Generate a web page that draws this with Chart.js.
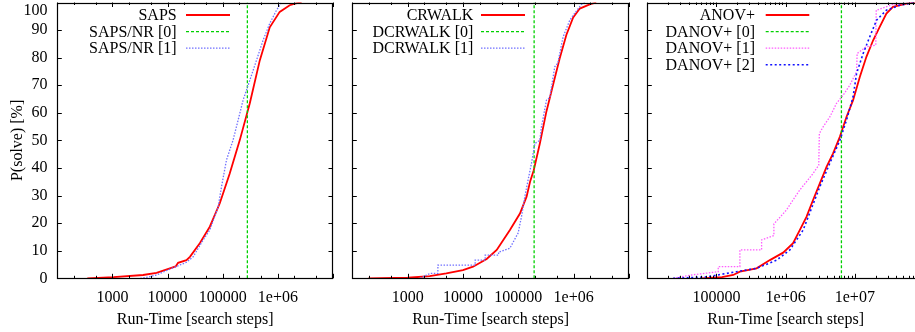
<!DOCTYPE html>
<html><head><meta charset="utf-8">
<script src="https://cdn.jsdelivr.net/npm/chart.js@4/dist/chart.umd.min.js"></script>
<style>
html,body{margin:0;padding:0;background:#fff;width:915px;height:332px;overflow:hidden;position:relative}
canvas{position:absolute;top:0}
</style></head><body>
<canvas id="c1" width="335" height="332" style="left:0px"></canvas>
<canvas id="c2" width="291" height="332" style="left:340px"></canvas>
<canvas id="c3" width="291" height="332" style="left:635px"></canvas>
<script>
// ---------- data ----------
const yTickValues = [0,10,20,30,40,50,60,70,80,90,100];
const yTickLabels = ['0','10','20','30','40','50','60','70','80','90','100'];

const xTickValues12 = [1000, 10000, 100000, 1000000];
const xTickLabels12 = ['1000', '10000', '100000', '1e+06'];
const xTickValues3 = [100000, 1000000, 10000000];
const xTickLabels3 = ['100000', '1e+06', '1e+07'];

// panel 1
const sapsX = [350, 1050, 3600, 6300, 11000, 14000, 15500, 22000, 25400, 38400, 58300, 88500, 134000, 204000, 310000, 470000, 713000, 1080000, 1640000, 2200000, 2700000];
const sapsY = [0, 0.4, 1.2, 2.0, 3.6, 4.3, 5.6, 6.6, 7.8, 12.7, 18.7, 27.2, 38, 50.1, 63.5, 79, 91, 96.6, 99, 99.8, 100];
const sapsNR0X = [280000, 280000];
const sapsNR0Y = [0, 100];
const sapsNR1X = [3200, 4500, 6300, 9800, 16600, 22000, 29100, 44200, 58300, 82600, 95100, 117000, 154000, 190000, 234000, 310000, 409000, 539000, 713000, 944000, 1160000];
const sapsNR1Y = [0, 0.5, 1.2, 2.9, 4.8, 5.8, 7.8, 13.9, 17.5, 25.9, 33.2, 42.9, 50.1, 57.3, 64.6, 71.8, 79, 86.3, 92.4, 97.2, 100];

// panel 2
const crwalkX = [195, 1000, 2500, 5000, 10000, 15200, 26800, 40700, 70500, 107000, 141000, 163000, 190000, 245000, 322000, 425000, 560000, 740000, 980000, 1290000, 1950000, 2560000];
const crwalkY = [0, 0.2, 0.8, 1.8, 3.0, 4.2, 7.0, 10.3, 17.5, 23.5, 29.6, 35, 39.2, 48.9, 60.5, 70.2, 79.8, 88.3, 94.6, 97.8, 99.3, 100];
const dcrwalk0X = [193000, 193000];
const dcrwalk0Y = [0, 100];
const dcrwalk1X = [1670, 2560, 3520, 3520, 16600, 16600, 25200, 25200, 44000, 44000, 70300, 99100, 114000, 131000, 150000, 173000, 199000, 245000, 262000, 323000, 370000, 456000, 517000, 644000, 851000, 1120000, 1380000, 1590000];
const dcrwalk1Y = [0, 1.8, 1.8, 4.8, 4.8, 6.6, 6.6, 8.4, 8.4, 9.5, 10.9, 16.4, 22.3, 29.6, 35.6, 41.7, 48.9, 50, 54.9, 64.6, 65.5, 76.7, 78, 87.5, 93.6, 96.9, 99.3, 100];

// panel 3
const anovX = [61100, 120000, 174600, 218000, 380000, 592000, 920000, 1280000, 1600000, 2000000, 2490000, 3120000, 3900000, 4850000, 6070000, 7570000, 9440000, 11800000, 14700000, 18400000, 22900000, 28600000, 35600000, 55700000, 73500000, 120000000];
const anovY = [0, 0.4, 1.2, 2.4, 3.6, 6.6, 9.3, 12.7, 17.5, 22.3, 28.4, 34.4, 40.4, 45.3, 51.3, 58.5, 64.6, 73, 80.3, 86.3, 91.2, 96, 98.4, 99.6, 100, 100];
const danov0X = [6400000, 6400000];
const danov0Y = [0, 100];
const danov1X = [23700, 43700, 106000, 106000, 218000, 218000, 449000, 449000, 676000, 676000, 1030000, 1280000, 1600000, 2000000, 2490000, 3010000, 3070000, 3480000, 4350000, 5430000, 6770000, 8450000, 10600000, 10800000, 14700000, 20100000, 20400000, 35600000, 73500000, 120000000];
const danov1Y = [0, 1.2, 2.4, 4.2, 4.2, 10.3, 10.3, 13.9, 15.5, 19.7, 24.8, 28.4, 32, 35, 38, 41, 52.5, 54.9, 58.5, 63.4, 66.4, 70, 74.9, 81.5, 84, 84.5, 97.2, 99.3, 100, 100];
const danov2X = [23700, 72100, 195000, 380000, 740000, 1150000, 1790000, 3120000, 4350000, 6070000, 7570000, 9440000, 10600000, 13200000, 16400000, 20600000, 28600000, 44600000, 73500000, 120000000];
const danov2Y = [0, 0.5, 2.4, 3.6, 6.6, 10.3, 17.5, 33.2, 41.7, 50, 57.3, 65.8, 74.3, 81.5, 87.5, 93.6, 97.2, 99, 100, 100];

// ---------- helpers ----------
const pts = (xs, ys) => xs.map((x, i) => ({x, y: ys[i]}));
const FONT = '"Liberation Serif", "Times New Roman", serif';
Chart.defaults.font.family = FONT;
Chart.defaults.font.size = 16;
Chart.defaults.color = '#000';

const RED = {borderColor:'#ff0000', borderWidth:1.8, borderDash:[]};
const GREEN = {borderColor:'#00d000', borderWidth:1.3, borderDash:[3,2]};
const LBLUE = {borderColor:'#7070ff', borderWidth:1.3, borderDash:[1.5,1.5]};
const BLUE = {borderColor:'#1010ff', borderWidth:1.6, borderDash:[2,2.5]};
const PINK = {borderColor:'#ff5cff', borderWidth:1.3, borderDash:[1.5,1.5]};

const gp = {
  id: 'gp',
  afterDraw(chart, args, o) {
    const {ctx, chartArea: a} = chart;
    const xs = chart.scales.x, ys = chart.scales.y;
    ctx.save();
    ctx.strokeStyle = '#000';
    ctx.lineWidth = 1;
    ctx.setLineDash([]);
    ctx.beginPath();
    const lo = Math.floor(Math.log10(xs.min)), hi = Math.ceil(Math.log10(xs.max));
    for (let e = lo; e <= hi; e++) {
      for (const m of [1, ...o.minor]) {
        const v = m * Math.pow(10, e);
        if (v < xs.min * 0.999 || v > xs.max * 1.001) continue;
        const px = Math.round(xs.getPixelForValue(v)) + 0.5;
        const L = m === 1 ? 4.5 : 2.5;
        ctx.moveTo(px, a.bottom); ctx.lineTo(px, a.bottom - L);
        ctx.moveTo(px, a.top); ctx.lineTo(px, a.top + L);
      }
    }
    for (const v of yTickValues) {
      const py = Math.round(ys.getPixelForValue(v)) + 0.5;
      ctx.moveTo(a.left, py); ctx.lineTo(a.left + 4.5, py);
      ctx.moveTo(a.right, py); ctx.lineTo(a.right - 4.5, py);
    }
    ctx.stroke();
    ctx.lineWidth = 1.2;
    ctx.strokeRect(Math.round(a.left) + 0.5, Math.round(a.top) + 0.5, Math.round(a.right - a.left) - 1, Math.round(a.bottom - a.top) - 1);

    ctx.font = '16px ' + FONT;
    ctx.fillStyle = '#000';
    if (o.yLabels) {
      ctx.textAlign = 'right';
      ctx.textBaseline = 'middle';
      yTickValues.forEach((v, i) => {
        const py = Math.max(ys.getPixelForValue(v), 11);
        ctx.fillText(yTickLabels[i], o.yLabelRight, py);
      });
    }
    const L = o.legend;
    chart.data.datasets.forEach((ds, i) => {
      const y = L.y0 + i * L.dy;
      ctx.textAlign = 'right';
      ctx.textBaseline = 'middle';
      ctx.fillStyle = '#000';
      ctx.fillText(ds.label, a.left + L.text, y + 1);
      ctx.strokeStyle = ds.borderColor;
      ctx.lineWidth = ds.borderWidth;
      ctx.setLineDash(ds.borderDash || []);
      ctx.beginPath();
      ctx.moveTo(a.left + L.s0, y); ctx.lineTo(a.left + L.s1, y);
      ctx.stroke();
    });
    ctx.restore();
  }
};

function makeChart(id, series, cfg) {
  const n = series.length;
  const datasets = series.map((s, i) => Object.assign({
    label: s.label,
    data: pts(s.x, s.y),
    pointRadius: 0,
    tension: 0,
    fill: false,
    order: n - i
  }, s.style));
  return new Chart(document.getElementById(id), {
    type: 'line',
    data: {datasets},
    options: {
      responsive: false,
      animation: false,
      devicePixelRatio: 1,
      layout: {autoPadding: false, padding: {top: 2.5, right: 2, left: cfg.padLeft, bottom: 0}},
      plugins: {
        legend: {display: false},
        tooltip: {enabled: false},
        gp: cfg.gp
      },
      scales: {
        x: {
          type: 'logarithmic',
          min: cfg.xmin, max: cfg.xmax,
          grid: {display: false, drawTicks: false},
          border: {display: false},
          ticks: {
            autoSkip: false, maxRotation: 0, minRotation: 0, padding: 0,
            font: {size: 16, lineHeight: 2.425},
            callback: (v) => {
              const k = cfg.tv.findIndex(t => Math.abs(t - v) / t < 1e-6);
              return k >= 0 ? cfg.tl[k] : '';
            }
          },
          title: {display: true, text: 'Run-Time [search steps]', padding: {top: 0, bottom: 2.4}},
          afterFit: (s) => { s.height = 332 - 278.3; }
        },
        y: {
          type: 'linear',
          min: 0, max: 100,
          display: cfg.yTitle,
          grid: {display: false, drawTicks: false},
          border: {display: false},
          ticks: {display: false, stepSize: 10, padding: 0},
          title: {display: cfg.yTitle, text: 'P(solve) [%]', padding: {top: 7.9, bottom: 0}},
          afterFit: (s) => { s.width = cfg.yTitle ? 57.3 : 0; }
        }
      }
    },
    plugins: [gp]
  });
}

makeChart('c1', [
  {label: 'SAPS', x: sapsX, y: sapsY, style: RED},
  {label: 'SAPS/NR [0]', x: sapsNR0X, y: sapsNR0Y, style: GREEN},
  {label: 'SAPS/NR [1]', x: sapsNR1X, y: sapsNR1Y, style: LBLUE}
], {padLeft: 0, xmin: 100, xmax: 10000000, tv: xTickValues12, tl: xTickLabels12, yTitle: true,
    gp: {minor: [2, 5], yLabels: true, yLabelRight: 47.5, legend: {y0: 15, dy: 16.6, text: 119.4, s0: 128.7, s1: 172.7}}});

makeChart('c2', [
  {label: 'CRWALK', x: crwalkX, y: crwalkY, style: RED},
  {label: 'DCRWALK [0]', x: dcrwalk0X, y: dcrwalk0Y, style: GREEN},
  {label: 'DCRWALK [1]', x: dcrwalk1X, y: dcrwalk1Y, style: LBLUE}
], {padLeft: 12.3, xmin: 100, xmax: 10000000, tv: xTickValues12, tl: xTickLabels12, yTitle: false,
    gp: {minor: [2, 5], yLabels: false, legend: {y0: 15, dy: 16.6, text: 121, s0: 128.7, s1: 172.7}}});

makeChart('c3', [
  {label: 'ANOV+', x: anovX, y: anovY, style: RED},
  {label: 'DANOV+ [0]', x: danov0X, y: danov0Y, style: GREEN},
  {label: 'DANOV+ [1]', x: danov1X, y: danov1Y, style: PINK},
  {label: 'DANOV+ [2]', x: danov2X, y: danov2Y, style: BLUE}
], {padLeft: 12.3, xmin: 10000, xmax: 100000000, tv: xTickValues3, tl: xTickLabels3, yTitle: false,
    gp: {minor: [2, 3, 4, 5, 6, 7, 8, 9], yLabels: false, legend: {y0: 15, dy: 16.6, text: 107.7, s0: 118.4, s1: 162}}});
</script>
</body></html>
